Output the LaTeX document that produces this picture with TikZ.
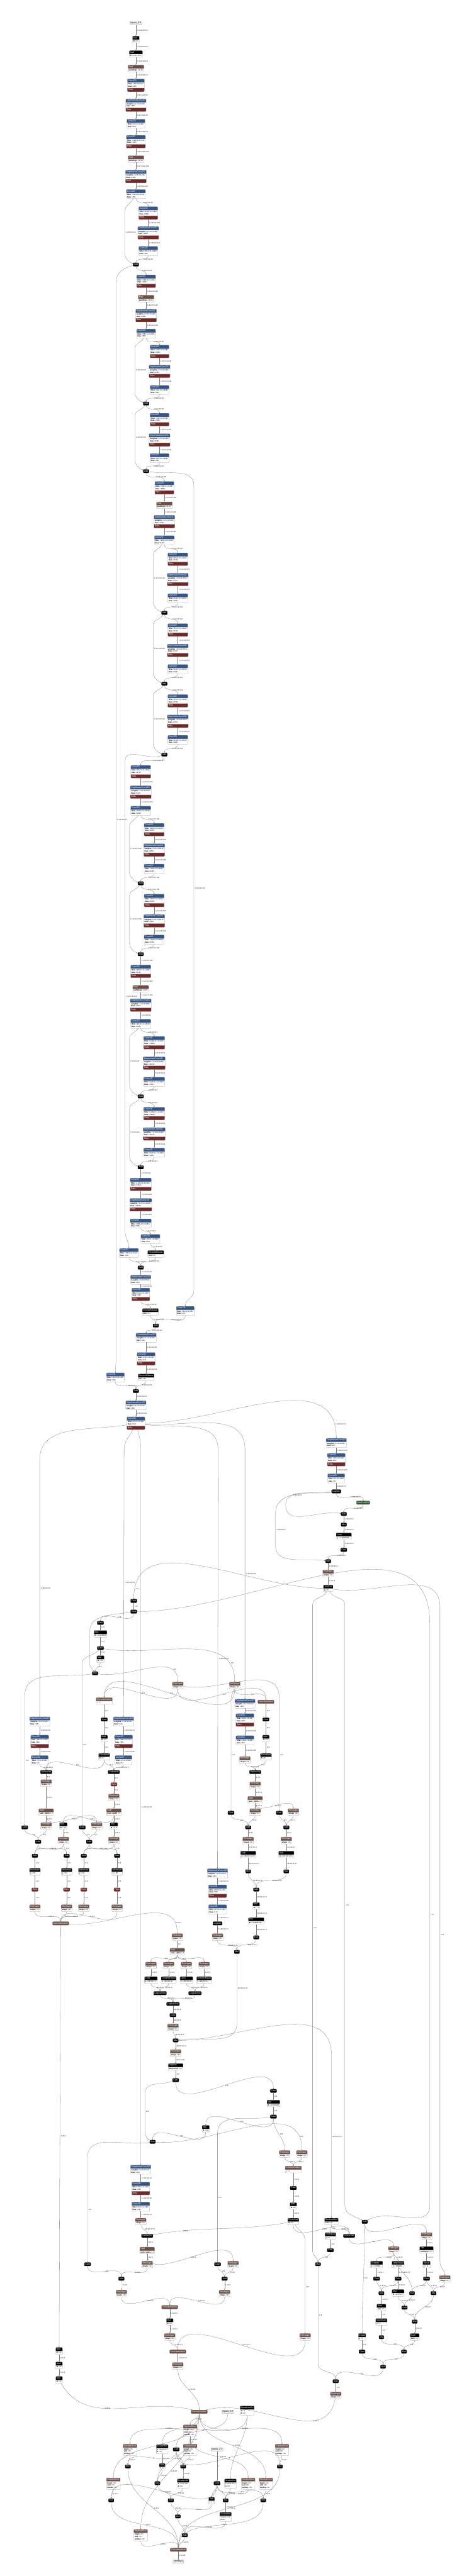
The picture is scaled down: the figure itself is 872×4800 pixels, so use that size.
\documentclass[tikz,border=0pt]{standalone}
\usepackage{fontspec}
\setmainfont{Liberation Sans}
\usetikzlibrary{shapes.multipart,arrows.meta}

\definecolor{convc}{RGB}{51,85,136}
\definecolor{reluc}{RGB}{112,40,40}
\definecolor{shapec}{RGB}{108,79,71}
\definecolor{poolc}{RGB}{51,85,51}
\definecolor{linec}{RGB}{125,125,125}

% node texts
\newcommand{\bfnt}{\fontsize{3.5}{4.4}\selectfont}
\newcommand{\hd}[1]{\textcolor{white}{\strut#1}}
\newcommand{\bx}[1]{{\bfnt\strut#1}}
\newcommand{\ak}[2]{{\bfnt\strut\textbf{#1} \textless#2\textgreater}}
\newcommand{\aq}[2]{{\bfnt\strut\textbf{#1} = #2}}
\newcommand{\lnb}[2]{{\bfnt\begin{tabular}{@{}l@{}}#1\\#2\end{tabular}}}
\newcommand{\oab}[3]{\hd{#1}\nodepart{two}\ak{#2}{#3}}
\newcommand{\oaq}[3]{\hd{#1}\nodepart{two}\aq{#2}{#3}}
\newcommand{\cvn}[4]{\hd{#1}\nodepart{two}\lnb{\ak{#2}{#3}}{\ak{bias}{#4}}}
\newcommand{\cvr}[4]{\cvn{#1}{#2}{#3}{#4}\nodepart{three}\hd{Relu}}
\newcommand{\ssl}{\hd{StridedSlice}\nodepart{two}{\bfnt\begin{tabular}{@{}l@{}}\ak{begin}{3}\\\ak{end}{3}\\\ak{strides}{3}\end{tabular}}}

\tikzset{
  nd/.style={draw=black!40, line width=0.3pt, rounded corners=1.2pt, inner xsep=1.5pt, inner ysep=0.6pt, font=\fontsize{4.2}{5.2}\selectfont},
  one/.style={nd, text height=3.64pt, text depth=1.56pt},
  op/.style={one, fill=black, draw=black, text=white},
  tens/.style={one, fill=shapec, draw=shapec, text=white},
  act/.style={one, fill=reluc, draw=reluc, text=white},
  pool/.style={one, fill=poolc, draw=poolc, text=white},
  io/.style={one, fill=black!6, draw=black!45},
  prt/.style={nd, anchor=north, rectangle split, rectangle split parts=2, rectangle split part align={left}, rectangle split part fill={#1,white}},
  cnv/.style={prt=convc},
  opb/.style={prt=black},
  tsb/.style={prt=shapec},
  cnr/.style={nd, anchor=north, rectangle split, rectangle split parts=3, rectangle split part align={left}, rectangle split part fill={convc,white,reluc}},
  lnk/.style={draw=linec, line width=0.35pt, -{Stealth[length=2.2pt,width=1.8pt]}},
  lbl/.style={font=\fontsize{3.3}{4}\selectfont, text=black!85, inner sep=0.6pt, anchor=west, xshift=1pt},
  dn/.style={out=-90,in=90},
}

\begin{document}
\begin{tikzpicture}[x=1pt,y=1pt]
\fill[white] (0,0) rectangle (872,-4800);
\useasboundingbox (0,0) rectangle (872,-4800);

% ---------------- stem ----------------
\node[io] (in0) at (253,-43) {inputs\_0:0};
\node[opb] (mul0) at (253,-67) {\oab{Mul}{B}{3}};
\node[opb] (sub0) at (253,-94) {\oab{Sub}{B}{1×1×1×3}};
\node[tsb] (pad0) at (253,-121) {\oab{Pad}{paddings}{4×2}};
\node[cnr] (cv0) at (253,-147) {\cvr{Conv2D}{filter}{48×3×3×3}{48}};
\node[cnr] (dw0) at (253,-184) {\cvr{DepthwiseConv2D}{weights}{1×3×3×48}{48}};
\node[cnv] (cv1) at (253,-222) {\cvn{Conv2D}{filter}{24×1×1×48}{24}};
\node[cnr] (cv2) at (253,-252) {\cvr{Conv2D}{filter}{144×1×1×24}{144}};
\node[tsb] (pad1) at (253,-290) {\oab{Pad}{paddings}{4×2}};
\node[cnr] (dw1) at (253,-317) {\cvr{DepthwiseConv2D}{weights}{1×3×3×144}{144}};
\node[cnv] (cv3) at (253,-353) {\cvn{Conv2D}{filter}{40×1×1×144}{40}};
\node[cnr] (cv4) at (276,-385) {\cvr{Conv2D}{filter}{240×1×1×40}{240}};
\node[cnr] (dw2) at (276,-422) {\cvr{DepthwiseConv2D}{weights}{1×3×3×240}{240}};
\node[cnv] (cv5) at (276,-459) {\cvn{Conv2D}{filter}{40×1×1×240}{40}};
\node[op] (add0) at (253,-493) {Add};
% stage 3
\node[cnr] (cv6) at (272,-512) {\cvr{Conv2D}{filter}{240×1×1×40}{240}};
\node[tsb] (pad2) at (272,-550) {\oab{Pad}{paddings}{4×2}};
\node[cnr] (dw3) at (272,-576) {\cvr{DepthwiseConv2D}{weights}{1×3×3×240}{240}};
\node[cnv] (cv7) at (272,-613) {\cvn{Conv2D}{filter}{56×1×1×240}{56}};
\node[cnr] (cv8) at (297,-643) {\cvr{Conv2D}{filter}{336×1×1×56}{336}};
\node[cnr] (dw4) at (297,-680) {\cvr{DepthwiseConv2D}{weights}{1×3×3×336}{336}};
\node[cnv] (cv9) at (297,-718) {\cvn{Conv2D}{filter}{56×1×1×336}{56}};
\node[op] (add1) at (272,-752) {Add};
\node[cnr] (cv10) at (297,-770) {\cvr{Conv2D}{filter}{336×1×1×56}{336}};
\node[cnr] (dw5) at (297,-808) {\cvr{DepthwiseConv2D}{weights}{1×3×3×336}{336}};
\node[cnv] (cv11) at (297,-845) {\cvn{Conv2D}{filter}{56×1×1×336}{56}};
\node[op] (add2) at (272,-878) {Add};
% stage 4
\node[cnr] (cv12) at (306,-897) {\cvr{Conv2D}{filter}{336×1×1×56}{336}};
\node[tsb] (pad3) at (306,-935) {\oab{Pad}{paddings}{4×2}};
\node[cnr] (dw6) at (306,-960) {\cvr{DepthwiseConv2D}{weights}{1×3×3×336}{336}};
\node[cnv] (cv13) at (306,-998) {\cvn{Conv2D}{filter}{112×1×1×336}{112}};
\node[cnr] (cv14) at (331,-1030) {\cvr{Conv2D}{filter}{672×1×1×112}{672}};
\node[cnr] (dw7) at (331,-1068) {\cvr{DepthwiseConv2D}{weights}{1×3×3×672}{672}};
\node[cnv] (cv15) at (331,-1106) {\cvn{Conv2D}{filter}{112×1×1×672}{112}};
\node[op] (add3) at (306,-1142) {Add};
\node[cnr] (cv16) at (331,-1162) {\cvr{Conv2D}{filter}{672×1×1×112}{672}};
\node[cnr] (dw8) at (331,-1200) {\cvr{DepthwiseConv2D}{weights}{1×3×3×672}{672}};
\node[cnv] (cv17) at (331,-1238) {\cvn{Conv2D}{filter}{112×1×1×672}{112}};
\node[op] (add4) at (306,-1274) {Add};
\node[cnr] (cv18) at (331,-1294) {\cvr{Conv2D}{filter}{672×1×1×112}{672}};
\node[cnr] (dw9) at (331,-1332) {\cvr{DepthwiseConv2D}{weights}{1×3×3×672}{672}};
\node[cnv] (cv19) at (331,-1370) {\cvn{Conv2D}{filter}{112×1×1×672}{112}};
\node[op] (add5) at (306,-1406) {Add};
% stage 5
\node[cnr] (cv20) at (262,-1426) {\cvr{Conv2D}{filter}{672×1×1×112}{672}};
\node[cnr] (dw10) at (262,-1464) {\cvr{DepthwiseConv2D}{weights}{1×3×3×672}{672}};
\node[cnv] (cv21) at (262,-1502) {\cvn{Conv2D}{filter}{136×1×1×672}{136}};
\node[cnr] (cv22) at (287,-1534) {\cvr{Conv2D}{filter}{816×1×1×136}{816}};
\node[cnr] (dw11) at (287,-1572) {\cvr{DepthwiseConv2D}{weights}{1×3×3×816}{816}};
\node[cnv] (cv23) at (287,-1610) {\cvn{Conv2D}{filter}{136×1×1×816}{136}};
\node[op] (add6) at (262,-1646) {Add};
\node[cnr] (cv24) at (287,-1666) {\cvr{Conv2D}{filter}{816×1×1×136}{816}};
\node[cnr] (dw12) at (287,-1704) {\cvr{DepthwiseConv2D}{weights}{1×3×3×816}{816}};
\node[cnv] (cv25) at (287,-1742) {\cvn{Conv2D}{filter}{136×1×1×816}{136}};
\node[op] (add7) at (262,-1778) {Add};
% stage 6
\node[cnr] (cv26) at (262,-1798) {\cvr{Conv2D}{filter}{816×1×1×136}{816}};
\node[tsb] (pad4) at (262,-1836) {\oab{Pad}{paddings}{4×2}};
\node[cnr] (dw13) at (262,-1861) {\cvr{DepthwiseConv2D}{weights}{1×3×3×816}{816}};
\node[cnv] (cv27) at (262,-1899) {\cvn{Conv2D}{filter}{224×1×1×816}{224}};
\node[cnr] (cv28) at (287,-1931) {\cvr{Conv2D}{filter}{1344×1×1×224}{1344}};
\node[cnr] (dw14) at (287,-1969) {\cvr{DepthwiseConv2D}{weights}{1×3×3×1344}{1344}};
\node[cnv] (cv29) at (287,-2007) {\cvn{Conv2D}{filter}{224×1×1×1344}{224}};
\node[op] (add8) at (262,-2043) {Add};
\node[cnr] (cv30) at (287,-2063) {\cvr{Conv2D}{filter}{1344×1×1×224}{1344}};
\node[cnr] (dw15) at (287,-2101) {\cvr{DepthwiseConv2D}{weights}{1×3×3×1344}{1344}};
\node[cnv] (cv31) at (287,-2139) {\cvn{Conv2D}{filter}{224×1×1×1344}{224}};
\node[op] (add9) at (262,-2175) {Add};
% stage 7
\node[cnr] (cv32) at (262,-2195) {\cvr{Conv2D}{filter}{1344×1×1×224}{1344}};
\node[cnr] (dw16) at (262,-2233) {\cvr{DepthwiseConv2D}{weights}{1×3×3×1344}{1344}};
\node[cnv] (cv33) at (262,-2271) {\cvn{Conv2D}{filter}{384×1×1×1344}{384}};
% feature pyramid
\node[cnv] (fc0) at (280,-2300) {\cvn{Conv2D}{filter}{64×1×1×384}{64}};
\node[opb] (fr0) at (290,-2330) {\oab{ResizeBilinear}{size}{2}};
\node[cnv] (fl0) at (240,-2326) {\cvn{Conv2D}{filter}{64×1×1×112}{64}};
\node[op] (fa0) at (262,-2362) {Add};
\node[cnv] (fd0) at (262,-2376) {\cvn{DepthwiseConv2D}{weights}{1×3×3×64}{64}};
\node[cnr] (fcr0) at (262,-2400) {\cvr{Conv2D}{filter}{32×1×1×64}{32}};
\node[opb] (fr1) at (280,-2438) {\oab{ResizeBilinear}{size}{2}};
\node[cnv] (fl1) at (345,-2434) {\cvn{Conv2D}{filter}{32×1×1×56}{32}};
\node[op] (fa1) at (290,-2470) {Add};
\node[cnv] (fd1) at (272,-2484) {\cvn{DepthwiseConv2D}{weights}{1×3×3×32}{32}};
\node[cnr] (fcr1) at (272,-2520) {\cvr{Conv2D}{filter}{24×1×1×32}{24}};
\node[opb] (fr2) at (272,-2560) {\oab{ResizeBilinear}{size}{2}};
\node[cnv] (fl2) at (215,-2558) {\cvn{Conv2D}{filter}{24×1×1×40}{24}};
\node[op] (fa2) at (253,-2592) {Add};
\node[cnv] (fd2) at (253,-2610) {\cvn{DepthwiseConv2D}{weights}{1×3×3×24}{24}};
\node[cnr] (fcr2) at (253,-2640) {\cvr{Conv2D}{filter}{24×1×1×24}{24}};

% ---------------- heads ----------------
\node[cnv] (hAdw) at (626,-2680) {\cvn{DepthwiseConv2D}{weights}{1×3×3×24}{24}};
\node[cnr] (hAcr) at (626,-2708) {\cvr{Conv2D}{filter}{96×1×1×24}{96}};
\node[cnv] (hAcv) at (626,-2746) {\cvn{Conv2D}{filter}{1×1×1×96}{1}};
\node[op] (hAlg) at (626,-2779) {Logistic};
\node[cnv] (hBdw) at (74,-3199) {\cvn{DepthwiseConv2D}{weights}{1×3×3×24}{24}};
\node[cnr] (hBcr) at (74,-3233) {\cvr{Conv2D}{filter}{96×1×1×24}{96}};
\node[cnv] (hBcv) at (74,-3271) {\cvn{Conv2D}{filter}{2×1×1×96}{2}};
\node[cnv] (hCdw) at (230,-3199) {\cvn{DepthwiseConv2D}{weights}{1×3×3×24}{24}};
\node[cnr] (hCcr) at (230,-3233) {\cvr{Conv2D}{filter}{96×1×1×24}{96}};
\node[cnv] (hCcv) at (230,-3271) {\cvn{Conv2D}{filter}{2×1×1×96}{2}};
\node[cnv] (hDdw) at (456,-3166) {\cvn{DepthwiseConv2D}{weights}{1×3×3×24}{24}};
\node[cnr] (hDcr) at (456,-3193) {\cvr{Conv2D}{filter}{96×1×1×24}{96}};
\node[cnv] (hDcv) at (456,-3234) {\cvn{Conv2D}{filter}{34×1×1×96}{34}};
\node[tsb] (hDrs) at (456,-3273) {\oab{Reshape}{shape}{4}};
\node[cnv] (hEdw) at (405,-3482) {\cvn{DepthwiseConv2D}{weights}{1×3×3×24}{24}};
\node[cnr] (hEcr) at (405,-3512) {\cvr{Conv2D}{filter}{96×1×1×24}{96}};
\node[cnv] (hEcv) at (405,-3549) {\cvn{Conv2D}{filter}{17×1×1×96}{17}};
\node[op] (hElg) at (405,-3584) {Logistic};
\node[tsb] (hErs) at (405,-3603) {\oab{Reshape}{shape}{4}};
\node[cnv] (hFdw) at (262,-4034) {\cvn{DepthwiseConv2D}{weights}{1×3×3×24}{24}};
\node[cnr] (hFcr) at (262,-4066) {\cvr{Conv2D}{filter}{96×1×1×24}{96}};
\node[cnv] (hFcv) at (262,-4103) {\cvn{Conv2D}{filter}{34×1×1×96}{34}};
\node[tsb] (hFrs) at (262,-4133) {\oab{Reshape}{shape}{4}};

% ---------------- centre heatmap ----------------
\node[pool] (mp0) at (676,-2800) {MaxPool2D};
\node[op] (sb0) at (640,-2821) {Sub};
\node[op] (ab0) at (640,-2841) {Abs};
\node[opb] (ls0) at (640,-2856) {\oaq{Less}{y}{1.0000000...}};
\node[op] (ca0) at (640,-2888) {Cast};
\node[op] (ml0) at (611,-2909) {Mul};
\node[tsb] (rs0) at (611,-2925) {\oab{Reshape}{shape}{2}};
\node[opb] (tk0) at (611,-2953) {\oaq{TopKV2}{k}{6}};

% ---------------- centres to boxes ----------------
\node[op] (ct0) at (249,-2983) {Cast};
\node[op] (ct1) at (249,-3003) {Cast};
\node[op] (ct2) at (187,-3024) {Cast};
\node[opb] (ml1) at (187,-3038) {\oaq{Mul}{B}{0.015625}};
\node[op] (ct3) at (187,-3071) {Cast};
\node[opb] (ml2) at (187,-3085) {\oaq{Mul}{B}{64}};
\node[op] (sb1) at (177,-3118) {Sub};
\node[tsb] (rs1) at (331,-3134) {\oab{Reshape}{shape}{2}};
\node[tsb] (rs2) at (437,-3134) {\oab{Reshape}{shape}{2}};
\node[tsb] (cc0) at (194,-3163) {\hd{Concatenation}\nodepart{two}\bx{\textless...\textgreater}};
\node[tens] (cc1) at (495,-3171) {Concatenation};
\node[op] (ct4) at (194,-3204) {Cast};
\node[op] (ct5) at (495,-3204) {Cast};
\node[opb] (ad0) at (194,-3233) {\oab{Add}{B}{2}};
\node[opb] (ad1) at (495,-3233) {\oab{Add}{B}{3}};
\node[opb] (fm0) at (194,-3267) {\oab{FloorMod}{B}{2}};
\node[opb] (fm1) at (495,-3267) {\oab{FloorMod}{B}{3}};
\node[op] (gn0) at (86,-3302) {GatherNd};
\node[op] (gn1) at (212,-3302) {GatherNd};
\node[op] (gn2) at (475,-3302) {GatherNd};
\node[tsb] (rs3) at (86,-3316) {\oab{Reshape}{shape}{3}};
\node[act] (re0) at (212,-3325) {Relu};
\node[tsb] (rs4) at (212,-3343) {\oab{Reshape}{shape}{3}};
\node[tsb] (sp0) at (86,-3370) {\oaq{Split}{num\_splits}{2}};
\node[tsb] (sp1) at (212,-3370) {\oaq{Split}{num\_splits}{2}};
\node[op] (ct6) at (46,-3405) {Cast};
\node[tsb] (rs5) at (86,-3396) {\oab{Reshape}{shape}{2}};
\node[opb] (ml3) at (118,-3396) {\oaq{Mul}{B}{0.5}};
\node[op] (ct7) at (153,-3405) {Cast};
\node[tsb] (rs6) at (180,-3396) {\oab{Reshape}{shape}{2}};
\node[opb] (ml4) at (212,-3396) {\oaq{Mul}{B}{0.5}};
\node[op] (ad2) at (71,-3432) {Add};
\node[tsb] (rs7) at (118,-3423) {\oab{Reshape}{shape}{2}};
\node[op] (ad3) at (166,-3432) {Add};
\node[tsb] (rs8) at (212,-3423) {\oab{Reshape}{shape}{2}};
\node[op] (ad4) at (65,-3458) {Add};
\node[op] (sb2) at (124,-3458) {Sub};
\node[op] (ad5) at (156,-3458) {Add};
\node[op] (sb3) at (218,-3458) {Sub};
\node[opb] (mn0) at (65,-3481) {\oaq{Minimum}{y}{64}};
\node[opb] (mn1) at (124,-3481) {\oaq{Minimum}{y}{64}};
\node[opb] (mn2) at (156,-3481) {\oaq{Minimum}{y}{48}};
\node[opb] (mn3) at (218,-3481) {\oaq{Minimum}{y}{48}};
\node[act] (re1) at (65,-3521) {Relu};
\node[act] (re2) at (124,-3521) {Relu};
\node[act] (re3) at (156,-3521) {Relu};
\node[act] (re4) at (218,-3521) {Relu};
\node[tsb] (rs9) at (65,-3549) {\oab{Reshape}{shape}{3}};
\node[tsb] (rs10) at (124,-3549) {\oab{Reshape}{shape}{3}};
\node[tsb] (rs11) at (156,-3549) {\oab{Reshape}{shape}{3}};
\node[tsb] (rs12) at (218,-3549) {\oab{Reshape}{shape}{3}};
\node[tens] (cc2) at (113,-3584) {Concatenation};

% ---------------- keypoint regression ----------------
\node[tsb] (rs40) at (475,-3320) {\oab{Reshape}{shape}{3}};
\node[tsb] (sp4) at (475,-3347) {\oaq{Split}{num\_splits}{2}};
\node[op] (ctA) at (430,-3378) {Cast};
\node[tsb] (rs41) at (475,-3370) {\oab{Reshape}{shape}{2}};
\node[op] (ctB) at (520,-3378) {Cast};
\node[tsb] (rs42) at (546,-3370) {\oab{Reshape}{shape}{2}};
\node[op] (ad20) at (462,-3405) {Add};
\node[op] (ad21) at (533,-3405) {Add};
\node[tsb] (rs43) at (462,-3423) {\oab{Reshape}{shape}{4}};
\node[tsb] (rs44) at (533,-3423) {\oab{Reshape}{shape}{4}};
\node[opb] (sb20) at (462,-3449) {\oab{Sub}{A}{48×64×1×1}};
\node[opb] (sb21) at (533,-3449) {\oab{Sub}{A}{48×64×1×1}};
\node[op] (ml20) at (462,-3487) {Mul};
\node[op] (ml21) at (533,-3487) {Mul};
\node[op] (ad22) at (477,-3521) {Add};
\node[opb] (ml22) at (477,-3545) {\oaq{Mul}{B}{-1}};
\node[opb] (ml23) at (477,-3573) {\oaq{Mul}{B}{0.0069444...}};
\node[op] (ex0) at (477,-3610) {Exp};
\node[op] (mlE) at (441,-3637) {Mul};

% ---------------- box masks ----------------
\node[tsb] (rs13) at (330,-3603) {\oab{Reshape}{shape}{2}};
\node[tsb] (sp2) at (330,-3630) {\oaq{Split}{num\_splits}{4}};
\node[tsb] (rs14) at (281,-3656) {\oab{Reshape}{shape}{3}};
\node[tsb] (rs15) at (314,-3656) {\oab{Reshape}{shape}{3}};
\node[tsb] (rs16) at (347,-3656) {\oab{Reshape}{shape}{3}};
\node[tsb] (rs17) at (380,-3656) {\oab{Reshape}{shape}{3}};
\node[opb] (ls1) at (281,-3683) {\oab{Less}{x}{48×64×1}};
\node[opb] (ge0) at (314,-3683) {\oab{GreaterEqual}{x}{48×64×1}};
\node[opb] (ls2) at (347,-3683) {\oab{Less}{x}{48×64×1}};
\node[opb] (ge1) at (380,-3683) {\oab{GreaterEqual}{x}{48×64×1}};
\node[op] (la0) at (298,-3714) {LogicalAnd};
\node[op] (la1) at (363,-3714) {LogicalAnd};
\node[op] (la2) at (322,-3734) {LogicalAnd};
\node[op] (ct8) at (322,-3755) {Cast};
\node[tsb] (rs18) at (322,-3771) {\oab{Reshape}{shape}{4}};
\node[op] (ml5) at (327,-3802) {Mul};
\node[tsb] (rs19) at (327,-3819) {\oab{Reshape}{shape}{2}};
\node[opb] (am0) at (327,-3845) {\oab{ArgMax}{dimension}{1}};
\node[op] (ct9) at (327,-3876) {Cast};
\node[op] (ct10) at (509,-3896) {Cast};
\node[opb] (ml6) at (509,-3913) {\oaq{Mul}{B}{0.015625}};
\node[op] (ct11) at (509,-3944) {Cast};
\node[opb] (ml7) at (383,-3960) {\oaq{Mul}{B}{64}};
\node[op] (sb4) at (284,-3991) {Sub};
\node[tsb] (rs20) at (530,-4007) {\oab{Reshape}{shape}{2}};
\node[tsb] (rs21) at (562,-4007) {\oab{Reshape}{shape}{2}};
\node[tsb] (cc3) at (546,-4036) {\hd{Concatenation}\nodepart{two}\bx{\textless...\textgreater}};
\node[op] (ct12) at (546,-4077) {Cast};
\node[opb] (ad6) at (546,-4104) {\oab{Add}{B}{2}};
\node[opb] (fm2) at (546,-4133) {\oab{FloorMod}{B}{2}};
\node[opb] (rm0) at (617,-4133) {\oab{ReduceMax}{axis}{1}};
\node[op] (sb5) at (679,-4140) {Sub};
\node[opb] (ne0) at (615,-4160) {\oaq{NotEqual}{y}{0}};
\node[op] (gn3) at (650,-4166) {GatherNd};
\node[tsb] (rs22) at (794,-4160) {\oab{Reshape}{shape}{3}};
\node[op] (ct13) at (615,-4193) {Cast};
\node[tsb] (rs23) at (733,-4186) {\oab{Reshape}{shape}{3}};
\node[opb] (tl0) at (794,-4186) {\oab{Tile}{multiples}{3}};
\node[op] (ml10) at (592,-4219) {Mul};
\node[opb] (gt0) at (701,-4213) {\oaq{Greater}{y}{0.0039...}};
\node[opb] (le0) at (741,-4213) {\oaq{LessEqual}{y}{0.0039...}};
\node[opb] (eq0) at (794,-4213) {\oaq{Equal}{y}{0}};
\node[op] (ct14) at (701,-4246) {Cast};
\node[op] (ct15) at (741,-4246) {Cast};
\node[op] (ct16) at (794,-4246) {Cast};
\node[tsb] (rs24) at (828,-4240) {\oab{Reshape}{shape}{3}};
\node[op] (ml11) at (710,-4273) {Mul};
\node[opb] (ml12) at (741,-4266) {\oab{Mul}{B}{1×6×17}};
\node[op] (ml13) at (767,-4273) {Mul};
\node[op] (ml14) at (807,-4273) {Mul};
\node[opb] (su0) at (710,-4293) {\oab{Sum}{axis}{1}};
\node[op] (ad7) at (753,-4300) {Add};
\node[opb] (mx0) at (710,-4320) {\oaq{Maximum}{y}{1}};
\node[op] (ml15) at (772,-4326) {Mul};
\node[opb] (eq1) at (674,-4348) {\oaq{Equal}{y}{0}};
\node[op] (dv0) at (710,-4355) {Div};
\node[opb] (su1) at (772,-4348) {\oab{Sum}{axis}{1}};
\node[op] (ct17) at (674,-4382) {Cast};
\node[op] (ml16) at (752,-4382) {Mul};
\node[op] (ml17) at (713,-4410) {Mul};
\node[op] (ad8) at (625,-4437) {Add};
\node[tsb] (rs25) at (625,-4457) {\oab{Reshape}{shape}{3}};

% ---------------- keypoint offsets ----------------
\node[op] (gn4) at (274,-4166) {GatherNd};
\node[tsb] (sp3) at (274,-4187) {\oaq{Split}{num\_splits}{2}};
\node[op] (ct18) at (163,-4219) {Cast};
\node[tsb] (rs26) at (274,-4213) {\oab{Reshape}{shape}{2}};
\node[op] (ct19) at (405,-4219) {Cast};
\node[tsb] (rs27) at (434,-4213) {\oab{Reshape}{shape}{2}};
\node[op] (ad9) at (226,-4246) {Add};
\node[op] (ad10) at (418,-4246) {Add};
\node[tsb] (rs28) at (226,-4267) {\oab{Reshape}{shape}{3}};
\node[tsb] (rs29) at (418,-4267) {\oab{Reshape}{shape}{3}};
\node[tens] (cc4) at (316,-4299) {Concatenation};
\node[opb] (ml18) at (316,-4320) {\oab{Mul}{B}{2}};
\node[tsb] (rs30) at (316,-4348) {\oab{Reshape}{shape}{4}};
\node[tsb] (rs31) at (568,-4348) {\oab{Reshape}{shape}{4}};
\node[tens] (cc5) at (331,-4382) {Concatenation};
\node[tsb] (rs32) at (331,-4402) {\oab{Reshape}{shape}{3}};
\node[opb] (lc0) at (110,-4374) {\oab{Mul}{B}{4}};
\node[opb] (lc1) at (110,-4401) {\oab{Add}{B}{4}};
\node[opb] (lc2) at (110,-4428) {\oab{Mul}{B}{4}};
\node[tens] (cc6) at (371,-4494) {Concatenation};
\node[io] (in2) at (424,-4494) {inputs\_2:2};
\node[opb] (bt0) at (460,-4483) {\hd{BroadcastTo}\nodepart{two}\lnb{\aq{1}{1}}{\ak{2}{3}}};

% ---------------- output slicing ----------------
\node[tsb] (bss0) at (354,-4518) {\ssl};
\node[tsb] (bss1) at (242,-4554) {\ssl};
\node[opb] (bsn0) at (302,-4555) {\hd{ScatterNd}\nodepart{two}\lnb{\ak{1}{6×17×3}}{\ak{2}{3}}};
\node[op] (bct0) at (328,-4564) {Cast};
\node[tsb] (bss2) at (354,-4554) {\ssl};
\node[io] (in1) at (404,-4564) {inputs\_1:1};
\node[tsb] (bss3) at (525,-4554) {\ssl};
\node[op] (bml19) at (238,-4596) {Mul};
\node[opb] (bsb6) at (302,-4590) {\oaq{Sub}{x}{1}};
\node[op] (bml20) at (341,-4596) {Mul};
\node[op] (bml21) at (521,-4596) {Mul};
\node[tsb] (bss4) at (211,-4617) {\ssl};
\node[op] (bml22) at (293,-4627) {Mul};
\node[opb] (bsn1) at (341,-4619) {\hd{ScatterNd}\nodepart{two}\lnb{\ak{1}{6×17×3}}{\ak{2}{3}}};
\node[op] (bct1) at (404,-4627) {Cast};
\node[opb] (bsn2) at (429,-4619) {\hd{ScatterNd}\nodepart{two}\lnb{\ak{1}{6×17×3}}{\ak{2}{3}}};
\node[tsb] (bss5) at (462,-4617) {\ssl};
\node[tsb] (bss6) at (495,-4617) {\ssl};
\node[op] (bml23) at (207,-4659) {Mul};
\node[op] (bad11) at (318,-4659) {Add};
\node[opb] (bsb7) at (394,-4653) {\oaq{Sub}{x}{1}};
\node[op] (bml24) at (420,-4659) {Mul};
\node[op] (bml25) at (490,-4659) {Mul};
\node[op] (bml26) at (331,-4689) {Mul};
\node[opb] (bsn3) at (420,-4681) {\hd{ScatterNd}\nodepart{two}\lnb{\ak{1}{6×17×3}}{\ak{2}{3}}};
\node[tsb] (bss7) at (262,-4713) {\ssl};
\node[op] (bad12) at (344,-4724) {Add};
\node[tens] (bcc7) at (332,-4751) {Concatenation};
\node[io] (out0) at (332,-4773) {Identity:0};

% ================= connectors =================
\foreach \fa/\fb/\fl in {in0/mul0/1×192×256×3, mul0/sub0/1×192×256×3, sub0/pad0/1×192×256×3, pad0/cv0/1×193×257×3,
  cv0/dw0/1×96×128×48, dw0/cv1/1×96×128×48, cv1/cv2/1×96×128×24, cv2/pad1/1×96×128×144, pad1/dw1/1×97×129×144,
  dw1/cv3/1×48×64×144, cv3/cv4/1×48×64×40, cv4/dw2/1×48×64×240, dw2/cv5/1×48×64×240, cv5/add0/1×48×64×40,
  add0/cv6/1×48×64×40, cv6/pad2/1×48×64×240, pad2/dw3/1×49×65×240, dw3/cv7/1×24×32×240, cv7/cv8/1×24×32×56,
  cv8/dw4/1×24×32×336, dw4/cv9/1×24×32×336, cv9/add1/1×24×32×56, add1/cv10/1×24×32×56, cv10/dw5/1×24×32×336,
  dw5/cv11/1×24×32×336, cv11/add2/1×24×32×56, add2/cv12/1×24×32×56, cv12/pad3/1×24×32×336, pad3/dw6/1×25×33×336,
  dw6/cv13/1×12×16×336, cv13/cv14/1×12×16×112, cv14/dw7/1×12×16×672, dw7/cv15/1×12×16×672, cv15/add3/1×12×16×112,
  add3/cv16/1×12×16×112, cv16/dw8/1×12×16×672, dw8/cv17/1×12×16×672, cv17/add4/1×12×16×112, add4/cv18/1×12×16×112,
  cv18/dw9/1×12×16×672, dw9/cv19/1×12×16×672, cv19/add5/1×12×16×112, add5/cv20/1×12×16×112, cv20/dw10/1×12×16×672,
  dw10/cv21/1×12×16×672, cv21/cv22/1×12×16×136, cv22/dw11/1×12×16×816, dw11/cv23/1×12×16×816, cv23/add6/1×12×16×136,
  add6/cv24/1×12×16×136, cv24/dw12/1×12×16×816, dw12/cv25/1×12×16×816, cv25/add7/1×12×16×136, add7/cv26/1×12×16×136,
  cv26/pad4/1×12×16×816, pad4/dw13/1×13×17×816, dw13/cv27/1×6×8×816, cv27/cv28/1×6×8×224, cv28/dw14/1×6×8×1344,
  dw14/cv29/1×6×8×1344, cv29/add8/1×6×8×224, add8/cv30/1×6×8×224, cv30/dw15/1×6×8×1344, dw15/cv31/1×6×8×1344,
  cv31/add9/1×6×8×224, add9/cv32/1×6×8×224, cv32/dw16/1×6×8×1344, dw16/cv33/1×6×8×1344, cv33/fc0/1×6×8×384,
  fc0/fr0/1×6×8×64, fr0/fa0/1×12×16×64, fl0/fa0/1×12×16×64, fa0/fd0/1×12×16×64, fd0/fcr0/1×12×16×64,
  fcr0/fr1/1×12×16×32, fr1/fa1/1×24×32×32, fl1/fa1/1×24×32×32, fa1/fd1/1×24×32×32, fd1/fcr1/1×24×32×32,
  fcr1/fr2/1×24×32×24, fr2/fa2/1×48×64×24, fl2/fa2/1×48×64×24, fa2/fd2/1×48×64×24, fd2/fcr2/1×48×64×24}
  \draw[lnk] (\fa) to[dn] node[lbl]{\fl} (\fb);

% skip connections
\draw[lnk] (cv3) to[out=-120,in=90] (232,-395) -- node[lbl]{1×48×64×40} (232,-470) to[out=-90,in=160] (add0);
\draw[lnk] (cv7) to[out=-120,in=90] (251,-650) -- node[lbl]{1×24×32×56} (251,-730) to[out=-90,in=160] (add1);
\draw[lnk] (add1) to[out=-120,in=90] (251,-775) -- node[lbl]{1×24×32×56} (251,-856) to[out=-90,in=160] (add2);
\draw[lnk] (cv13) to[out=-120,in=90] (285,-1035) -- node[lbl]{1×12×16×112} (285,-1120) to[out=-90,in=160] (add3);
\draw[lnk] (add3) to[out=-120,in=90] (285,-1165) -- node[lbl]{1×12×16×112} (285,-1252) to[out=-90,in=160] (add4);
\draw[lnk] (add4) to[out=-120,in=90] (285,-1297) -- node[lbl]{1×12×16×112} (285,-1384) to[out=-90,in=160] (add5);
\draw[lnk] (cv21) to[out=-120,in=90] (241,-1540) -- node[lbl]{1×12×16×136} (241,-1624) to[out=-90,in=160] (add6);
\draw[lnk] (add6) to[out=-120,in=90] (241,-1669) -- node[lbl]{1×12×16×136} (241,-1756) to[out=-90,in=160] (add7);
\draw[lnk] (cv27) to[out=-120,in=90] (241,-1935) -- node[lbl]{1×6×8×224} (241,-2021) to[out=-90,in=160] (add8);
\draw[lnk] (add8) to[out=-120,in=90] (241,-2066) -- node[lbl]{1×6×8×224} (241,-2153) to[out=-90,in=160] (add9);
% lateral connections into the pyramid
\draw[lnk] (add0) to[out=195,in=90] (216,-525) -- node[lbl]{1×48×64×40} (216,-2530) to[dn] (fl2);
\draw[lnk] (add2) to[out=-10,in=90] (361,-905) -- node[lbl]{1×24×32×56} (361,-2405) to[dn] (fl1);
\draw[lnk] (add5) to[out=200,in=90] (233,-1418) -- node[lbl]{1×12×16×112} (233,-2295) to[dn] (fl0);

% pyramid output to the six heads
\draw[lnk] (fcr2) to[out=190,in=90] (74,-2720) -- node[lbl]{1×48×64×24} (hBdw);
\draw[lnk] (fcr2) to[out=-115,in=90] (231,-2700) -- node[lbl]{1×48×64×24} (hCdw);
\draw[lnk] (fcr2) to[out=-75,in=90] (262,-2700) -- node[lbl]{1×48×64×24} (hFdw);
\draw[lnk] (fcr2) to[out=-8,in=90] (406,-2700) -- node[lbl]{1×48×64×24} (hEdw);
\draw[lnk] (fcr2) to[out=-5,in=90] (456,-2700) -- node[lbl]{1×48×64×24} (hDdw);
\draw[lnk] (fcr2) to[out=0,in=90] node[lbl,pos=0.93]{1×48×64×24} (hAdw);

\foreach \fa/\fb/\fl in {hAdw/hAcr/1×48×64×24, hAcr/hAcv/1×48×64×96, hAcv/hAlg/1×48×64×1,
  hBdw/hBcr/1×48×64×24, hBcr/hBcv/1×48×64×96, hBcv/gn0/1×48×64×2,
  hCdw/hCcr/1×48×64×24, hCcr/hCcv/1×48×64×96, hCcv/gn1/1×48×64×2,
  hDdw/hDcr/1×48×64×24, hDcr/hDcv/1×48×64×96, hDcv/hDrs/1×48×64×34, hDrs/gn2/48×64×34,
  hEdw/hEcr/1×48×64×24, hEcr/hEcv/1×48×64×96, hEcv/hElg/1×48×64×17, hElg/hErs/1×48×64×17, hErs/mlE/48×64×1×17,
  hFdw/hFcr/1×48×64×24, hFcr/hFcv/1×48×64×96, hFcv/hFrs/1×48×64×34, hFrs/gn4/48×64×17×2}
  \draw[lnk] (\fa) to[dn] node[lbl]{\fl} (\fb);

% centre heatmap peaks
\draw[lnk] (hAlg) to[out=190,in=90] node[lbl,pos=0.7]{1×48×64×1} (532,-2805) to[out=-90,in=170] (sb0);
\draw[lnk] (hAlg) to[out=185,in=90] (513,-2820) -- node[lbl]{1×48×64×1} (513,-2880) to[out=-90,in=170] (ml0);
\foreach \fa/\fb/\fl in {hAlg/mp0/1×48×64×1, mp0/sb0/1×48×64×1, sb0/ab0/1×48×64×1, ab0/ls0/1×48×64×1,
  ls0/ca0/1×48×64×1, ca0/ml0/1×48×64×1, ml0/rs0/1×48×64×1, rs0/tk0/1×3072}
  \draw[lnk] (\fa) to[dn] node[lbl]{\fl} (\fb);
\draw[lnk] (tk0) to[out=180,in=90] node[lbl,pos=0.95]{1×6} (ct0);
\draw[lnk] (tk0) to[out=-115,in=90] (582,-2990) -- node[lbl]{1×6} (582,-4195) to[dn] (ml10);
\draw[lnk] (tk0) to[out=-65,in=90] (642,-2990) -- node[lbl]{1×6} (642,-4110) to[out=-90,in=150] (sb5);
\draw[lnk] (tk0) to[out=-10,in=90] (819,-2995) -- node[lbl]{1×6} (819,-4215) to[dn] (rs24);
\draw[lnk] (ct1) to[out=0,in=90] (800,-3025) -- node[lbl]{1×6} (800,-4110) to[out=-90,in=30] (sb5);

% centres to box corners
\draw[lnk] (ct1) to[out=190,in=90] node[lbl]{1×6} (167,-3040) -- (167,-3100) to[out=-90,in=120] (sb1);
\draw[lnk] (sb1) to[out=190,in=90] (46,-3160) -- node[lbl]{1×6} (ct6);
\draw[lnk] (ct3) to[out=-130,in=90] (153,-3100) -- node[lbl]{1×6} (ct7);
\draw[lnk] (sb1) to[out=-10,in=90] node[lbl,pos=0.8]{1×6} (rs1);
\draw[lnk] (ct3) to[out=-10,in=90] node[lbl,pos=0.85]{1×6} (rs2);
\draw[lnk] (rs2) to[out=-100,in=90] (430,-3165) -- node[lbl]{6×1} (ctA);
\draw[lnk] (rs1) to[out=-10,in=90] (520,-3165) -- node[lbl]{6×1} (ctB);
\foreach \fa/\fb/\fl in {ct0/ct1/1×6, ct1/ct2/1×6, ct2/ml1/1×6, ml1/ct3/1×6, ct3/ml2/1×6, ml2/sb1/1×6,
  rs1/cc0/6×1, rs2/cc0/6×1, rs1/cc1/6×1, rs2/cc1/6×1, cc0/ct4/6×2, ct4/ad0/6×2, ad0/fm0/6×2, fm0/gn0/6×2,
  fm0/gn1/6×2, cc1/ct5/6×3, ct5/ad1/6×3, ad1/fm1/6×3, fm1/gn2/6×3,
  gn0/rs3/6×2, rs3/sp0/1×6×2, gn1/re0/6×2, re0/rs4/6×2, rs4/sp1/1×6×2, sp0/rs5/1×6×1, sp0/rs6/1×6×1,
  sp1/ml3/1×6×1, sp1/ml4/1×6×1, ct6/ad2/1×6, rs5/ad2/1×6, ml3/rs7/1×6×1, ct7/ad3/1×6, rs6/ad3/1×6,
  ml4/rs8/1×6×1, ad2/ad4/1×6, ad2/sb2/1×6, rs7/ad4/1×6, rs7/sb2/1×6, ad3/ad5/1×6, ad3/sb3/1×6,
  rs8/ad5/1×6, rs8/sb3/1×6, ad4/mn0/1×6, sb2/mn1/1×6, ad5/mn2/1×6, sb3/mn3/1×6,
  mn0/re1/1×6, mn1/re2/1×6, mn2/re3/1×6, mn3/re4/1×6, re1/rs9/1×6, re2/rs10/1×6, re3/rs11/1×6, re4/rs12/1×6,
  rs9/cc2/1×6×1, rs10/cc2/1×6×1, rs11/cc2/1×6×1, rs12/cc2/1×6×1}
  \draw[lnk] (\fa) to[dn] node[lbl]{\fl} (\fb);

% keypoint regression
\foreach \fa/\fb/\fl in {gn2/rs40/6×34, rs40/sp4/6×17×2, sp4/rs41/6×17×1, sp4/rs42/6×17×1, ctA/ad20/6×1,
  rs41/ad20/6×17, ctB/ad21/6×1, rs42/ad21/6×17, ad20/rs43/6×17, ad21/rs44/6×17, rs43/sb20/1×1×6×17,
  rs44/sb21/1×1×6×17, sb20/ml20/48×64×6×17, sb21/ml21/48×64×6×17, ml20/ad22/48×64×6×17,
  ml21/ad22/48×64×6×17, ad22/ml22/48×64×6×17, ml22/ml23/48×64×6×17, ml23/ex0/48×64×6×17, ex0/mlE/48×64×6×17}
  \draw[lnk] (\fa) to[dn] node[lbl]{\fl} (\fb);
\draw[lnk] (mlE) -- node[lbl]{48×64×6×17} (441,-3770) to[out=-90,in=10] (ml5);

% box masks and arg max
\draw[lnk] (cc2) to[out=-5,in=90] node[lbl,pos=0.9]{1×6×4} (rs13);
\foreach \fa/\fb/\fl in {rs13/sp2/6×4, sp2/rs14/6×1, sp2/rs15/6×1, sp2/rs16/6×1, sp2/rs17/6×1,
  rs14/ls1/1×1×6, rs15/ge0/1×1×6, rs16/ls2/1×1×6, rs17/ge1/1×1×6, ls1/la0/48×64×6, ge0/la0/48×64×6,
  ls2/la1/48×64×6, ge1/la1/48×64×6, la0/la2/48×64×6, la1/la2/48×64×6, la2/ct8/48×64×6, ct8/rs18/48×64×6,
  rs18/ml5/48×64×6×1, ml5/rs19/48×64×6×17, rs19/am0/3072×102, am0/ct9/102, ct9/ct10/102, ct10/ml6/102,
  ml6/ct11/102, ct11/ml7/102, ct11/rs20/102, ml7/sb4/102, rs20/cc3/102×1, rs21/cc3/102×1, cc3/ct12/102×2,
  ct12/ad6/102×2, ad6/fm2/102×2}
  \draw[lnk] (\fa) to[dn] node[lbl]{\fl} (\fb);
\draw[lnk] (ml5) to[out=0,in=90] (617,-3830) -- node[lbl]{48×64×6×17} (rm0);
\draw[lnk] (ct9) to[out=200,in=90] (270,-3900) -- node[lbl]{102} (270,-3970) to[out=-90,in=150] (sb4);
\draw[lnk] (ct11) to[out=190,in=90] (405,-3975) -- node[lbl]{102} (ct19);
\draw[lnk] (sb4) to[out=190,in=90] (163,-4020) -- node[lbl]{102} (ct18);
\draw[lnk] (sb4) to[out=-5,in=90] node[lbl,pos=0.9]{102} (rs21);
\draw[lnk] (fm2) to[out=190,in=10] node[lbl,pos=0.8]{102×2} (gn4);
\draw[lnk] (fm2) to[out=-60,in=90] (568,-4175) -- node[lbl]{102} (rs31);

% scores
\foreach \fa/\fb/\fl in {fm2/gn3/102×2, rm0/gn3/48×64×17, rm0/ne0/1×6, ne0/ct13/1×6, ct13/ml10/1×6,
  gn3/rs23/102, sb5/rs22/1×6, sb5/eq1/1×6, rs22/tl0/1×6×1, tl0/eq0/1×6×17, eq0/ct16/1×6×17,
  rs23/gt0/1×6×17, rs23/le0/1×6×17, gt0/ct14/1×6×17, le0/ct15/1×6×17, ct14/ml11/1×6×17, ct15/ml11/1×6×17,
  ct15/ml12/1×6×17, rs23/ml13/1×6×17, ct16/ml13/1×6×17, ct16/ml14/1×6×17, rs24/ml14/1×6×1,
  ml12/ad7/1×6×17, ml13/ad7/1×6×17, ad7/ml15/1×6×17, ml14/ml15/1×6×17, ml11/su0/1×6×17, su0/mx0/1×6,
  mx0/dv0/1×6, ml15/su1/1×6×17, su1/ml16/1×6, dv0/ml16/1×6, eq1/ct17/1×6, ct17/ml17/1×6, ml16/ml17/1×6,
  ml17/ad8/1×6, ad8/rs25/1×6}
  \draw[lnk] (\fa) to[dn] node[lbl]{\fl} (\fb);
\draw[lnk] (ml10) -- node[lbl]{1×6} (592,-4405) to[dn] (ad8);
\draw[lnk] (rs25) to[out=-100,in=15] node[lbl,pos=0.3]{1×6×1} (cc6);

% keypoint offsets
\foreach \fa/\fb/\fl in {gn4/sp3/102×2, sp3/rs26/102×1, sp3/rs27/102×1, ct18/ad9/102, rs26/ad9/1×102,
  ct19/ad10/102, rs27/ad10/1×102, ad9/rs28/1×102, ad10/rs29/1×102, rs28/cc4/1×102×1, rs29/cc4/1×102×1,
  cc4/ml18/1×102×2, ml18/rs30/1×102×2, rs30/cc5/1×6×17×2, rs31/cc5/1×6×17×1, cc5/rs32/1×6×17×3,
  rs32/cc6/1×6×51, lc0/lc1/1×6×4, lc1/lc2/1×6×4}
  \draw[lnk] (\fa) to[dn] node[lbl]{\fl} (\fb);
\draw[lnk] (cc2) -- node[lbl]{1×6×4} (lc0);
\draw[lnk] (lc2) to[out=-60,in=165] node[lbl,pos=0.4]{1×6×4} (cc6);

% output slicing
\foreach \fa/\fb/\fl in {cc6/bss0/1×6×56, cc6/bss1/1×6×56, cc6/bss4/1×6×56, cc6/bss7/1×6×56, cc6/bss3/1×6×56,
  cc6/bss6/1×6×56, bss0/bss2/1×6×51, bss0/bss5/1×6×51, bss0/bml22/1×6×51, bt0/bsn0/1, bt0/bsn2/1,
  in2/bct0/1, bct0/bml19/1, bct0/bml20/1, bct0/bml21/1, bss1/bml19/1×6×1, bss2/bml20/1×6×17,
  bss3/bml21/1×6×1, bsn0/bsb6/1×6×17, bsb6/bml22/1×6×17, bml20/bsn1/1×6×17, bml22/bad11/1×6×51,
  bsn1/bad11/1×6×51, in1/bct1/1, bct1/bsb7/1, bct1/bml23/1, bct1/bml24/1, bct1/bml25/1, bss4/bml23/1×6×1,
  bsn2/bml24/1×6×51, bss5/bml24/1×6×17, bss6/bml25/1×6×1, bad11/bml26/1×6×51, bsb7/bml26/1×6×51,
  bml24/bsn3/1×6×17, bml26/bad12/1×6×51, bsn3/bad12/1×6×51, bml23/bcc7/1×6×1, bml19/bcc7/1×6×1,
  bss7/bcc7/1×6×1, bad12/bcc7/1×6×51, bml25/bcc7/1×6×1, bml21/bcc7/1×6×1, bcc7/out0/1×6×56}
  \draw[lnk] (\fa) to[dn] node[lbl]{\fl} (\fb);
\end{tikzpicture}
\end{document}
